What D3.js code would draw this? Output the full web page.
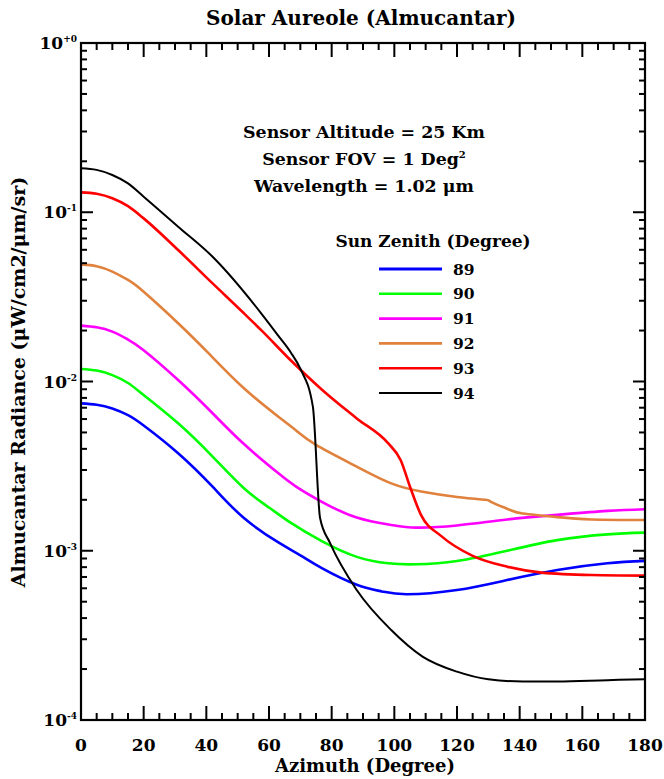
<!DOCTYPE html>
<html>
<head>
<meta charset="utf-8">
<script src="https://cdn.jsdelivr.net/npm/d3@7"></script>
<style>
  html, body { margin: 0; padding: 0; background: #fff; }
  svg { display: block; }
  text { font-family: "DejaVu Serif", "Liberation Serif", serif; font-weight: bold; fill: #000; }
</style>
</head>
<body>
<svg id="chart" width="664" height="779"></svg>
<script>
// ---------------- data ----------------
const xTicks = [0, 20, 40, 60, 80, 100, 120, 140, 160, 180];
const yTickValues = [1e-4, 1e-3, 1e-2, 1e-1, 1];
const yTickExp = ["-4", "-3", "-2", "-1", "+0"];

const sunZenith = ["89", "90", "91", "92", "93", "94"];
const seriesColors = ["#0000ff", "#00ff00", "#ff00ff", "#e0823d", "#ff0000", "#000000"];

const az89  = [0, 5, 10, 15, 20, 31, 42, 52, 63, 70, 77, 88, 96, 104, 120, 136, 152, 168, 180];
const rad89 = [7.43e-3, 7.29e-3, 6.93e-3, 6.33e-3, 5.50e-3, 3.77e-3, 2.39e-3, 1.56e-3, 1.12e-3, 9.4e-4, 7.87e-4, 6.3e-4, 5.75e-4, 5.53e-4, 5.86e-4, 6.71e-4, 7.69e-4, 8.43e-4, 8.71e-4];

const az90  = [0, 5, 10, 15, 20, 31, 42, 52, 60, 67, 77, 88, 98, 107, 120, 136, 152, 168, 180];
const rad90 = [1.186e-2, 1.16e-2, 1.09e-2, 9.80e-3, 8.32e-3, 5.66e-3, 3.60e-3, 2.34e-3, 1.80e-3, 1.46e-3, 1.135e-3, 9.2e-4, 8.43e-4, 8.32e-4, 8.7e-4, 1.0e-3, 1.156e-3, 1.25e-3, 1.28e-3];

const az91  = [0, 5, 10, 15, 20, 31, 42, 52, 63, 69, 77, 88, 99, 107, 120, 136, 152, 168, 180];
const rad91 = [2.14e-2, 2.09e-2, 1.97e-2, 1.77e-2, 1.53e-2, 1.02e-2, 6.49e-3, 4.27e-3, 2.87e-3, 2.37e-3, 1.94e-3, 1.57e-3, 1.42e-3, 1.37e-3, 1.41e-3, 1.53e-3, 1.63e-3, 1.72e-3, 1.76e-3];

const az92  = [0, 5, 10, 15, 20, 31, 41, 52, 63, 69, 75, 88, 99, 109, 120, 129, 131, 137, 141, 152, 163, 180];
const rad92 = [4.92e-2, 4.80e-2, 4.46e-2, 3.98e-2, 3.39e-2, 2.21e-2, 1.45e-2, 9.12e-3, 6.19e-3, 5.07e-3, 4.22e-3, 3.14e-3, 2.5e-3, 2.23e-3, 2.08e-3, 2.0e-3, 1.94e-3, 1.74e-3, 1.66e-3, 1.58e-3, 1.53e-3, 1.52e-3];

const az93  = [0, 5, 10, 15, 20, 31, 42, 52, 58, 67, 77, 88, 98, 102, 105, 108.5, 115, 125, 136, 147, 163, 180];
const rad93 = [0.131, 0.1285, 0.121, 0.1086, 9.2e-2, 5.98e-2, 3.80e-2, 2.53e-2, 1.97e-2, 1.33e-2, 8.91e-3, 6.05e-3, 4.32e-3, 3.44e-3, 2.39e-3, 1.63e-3, 1.22e-3, 9.33e-4, 8.05e-4, 7.43e-4, 7.19e-4, 7.13e-4];

const az94  = [0, 5, 10, 15, 20, 31, 42, 57.5, 63, 67, 70, 74, 76.3, 79.5, 88, 99, 109, 120, 130, 141, 152, 168, 180];
const rad94 = [0.182, 0.178, 0.166, 0.148, 0.1236, 8.22e-2, 5.46e-2, 2.53e-2, 1.86e-2, 1.48e-2, 1.19e-2, 7.1e-3, 1.56e-3, 1.11e-3, 5.86e-4, 3.40e-4, 2.37e-4, 1.93e-4, 1.74e-4, 1.69e-4, 1.69e-4, 1.72e-4, 1.74e-4];

const seriesAz  = [az89, az90, az91, az92, az93, az94];
const seriesRad = [rad89, rad90, rad91, rad92, rad93, rad94];

const titleText = "Solar Aureole (Almucantar)";
const xLabel = "Azimuth (Degree)";
const yLabel = "Almucantar Radiance (\u03BCW/cm2/\u03BCm/sr)";
const legendTitle = "Sun Zenith (Degree)";

// ---------------- layout ----------------
const svg = d3.select("#chart");
const L = 81, R = 645, T = 43, B = 720;

const x = d3.scaleLinear().domain([0, 180]).range([L, R]);
const y = d3.scaleLog().domain([1e-4, 1]).range([B, T]);

svg.append("rect").attr("width", 664).attr("height", 779).attr("fill", "#fff");

svg.append("clipPath").attr("id", "clip")
  .append("rect").attr("x", L).attr("y", T).attr("width", R - L).attr("height", B - T);

// ---------------- curves ----------------
const naturalLine = d3.line()
  .x(d => x(d[0]))
  .y(d => y(d[1]))
  .curve(d3.curveNatural);
const kinkLine = d3.line()
  .x(d => x(d[0]))
  .y(d => y(d[1]))
  .curve(d3.curveMonotoneX);

const plotG = svg.append("g").attr("clip-path", "url(#clip)");
sunZenith.forEach((name, i) => {
  const pts = seriesAz[i].map((a, j) => [a, seriesRad[i][j]]);
  plotG.append("path")
    .datum(pts)
    .attr("d", i >= 4 ? kinkLine : naturalLine)
    .attr("fill", "none")
    .attr("stroke", seriesColors[i])
    .attr("stroke-width", i === 5 ? 2 : 2.6)
    .attr("stroke-linejoin", "round");
});

// ---------------- axes / frame ----------------
const axG = svg.append("g").attr("stroke", "#000").attr("stroke-width", 2);

d3.range(0, 181, 5).forEach(v => {
  const len = v % 20 === 0 ? 14 : 7;
  axG.append("line").attr("x1", x(v)).attr("x2", x(v)).attr("y1", B).attr("y2", B - len);
  axG.append("line").attr("x1", x(v)).attr("x2", x(v)).attr("y1", T).attr("y2", T + len);
});

y.ticks().forEach(v => {
  const major = Math.abs(Math.log10(v) - Math.round(Math.log10(v))) < 1e-9;
  const len = major ? 12 : 6;
  axG.append("line").attr("x1", L).attr("x2", L + len).attr("y1", y(v)).attr("y2", y(v));
  axG.append("line").attr("x1", R).attr("x2", R - len).attr("y1", y(v)).attr("y2", y(v));
});

svg.append("rect")
  .attr("x", L).attr("y", T).attr("width", R - L).attr("height", B - T)
  .attr("fill", "none").attr("stroke", "#000").attr("stroke-width", 2.2);

xTicks.forEach(v => {
  svg.append("text")
    .attr("x", x(v)).attr("y", 751)
    .attr("text-anchor", "middle")
    .attr("font-size", 17)
    .text(v);
});

yTickValues.forEach((v, i) => {
  const t = svg.append("text")
    .attr("x", 77).attr("y", y(v) + 6)
    .attr("text-anchor", "end")
    .attr("font-size", 17);
  t.append("tspan").text("10");
  t.append("tspan").attr("dy", -7).attr("font-size", 9).text(yTickExp[i]);
});

svg.append("text")
  .attr("x", (L + R) / 2 - 2).attr("y", 25)
  .attr("text-anchor", "middle")
  .attr("font-size", 20)
  .text(titleText);

svg.append("text")
  .attr("x", (L + R) / 2 + 2).attr("y", 772)
  .attr("text-anchor", "middle")
  .attr("font-size", 18)
  .text(xLabel);

svg.append("text")
  .attr("transform", `translate(25, 382) rotate(-90)`)
  .attr("text-anchor", "middle")
  .attr("font-size", 19)
  .text(yLabel);

const ann = svg.append("g").attr("font-size", 17.4);
ann.append("text").attr("x", 364).attr("y", 138).attr("text-anchor", "middle").text("Sensor Altitude = 25 Km");
const fov = ann.append("text").attr("x", 364).attr("y", 165).attr("text-anchor", "middle");
fov.append("tspan").text("Sensor FOV = 1 Deg");
fov.append("tspan").attr("dy", -7).attr("font-size", 10).text("2");
ann.append("text").attr("x", 364).attr("y", 192).attr("text-anchor", "middle").text("Wavelength = 1.02 \u03BCm");

svg.append("text").attr("x", 433).attr("y", 247).attr("text-anchor", "middle")
  .attr("font-size", 17).text(legendTitle);
const legY0 = 269, legDy = 24.8;
sunZenith.forEach((name, i) => {
  const yy = legY0 + i * legDy;
  svg.append("line")
    .attr("x1", 379).attr("x2", 442).attr("y1", yy).attr("y2", yy)
    .attr("stroke", seriesColors[i])
    .attr("stroke-width", i === 5 ? 2 : (i === 0 ? 3 : 2.6));
  svg.append("text").attr("x", 453).attr("y", yy + 5.5)
    .attr("font-size", 15.5).text(name);
});
</script>
</body>
</html>
